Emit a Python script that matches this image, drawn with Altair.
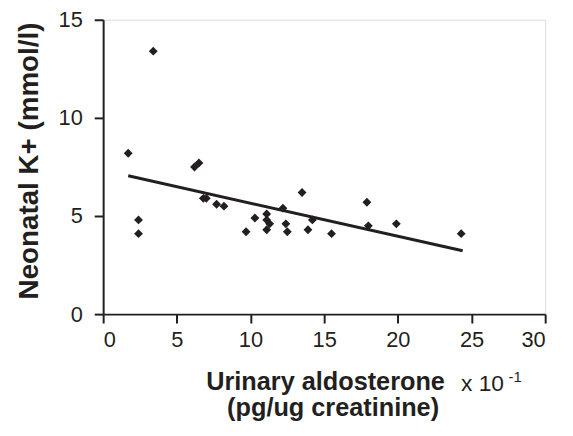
import altair as alt
import pandas as pd

# Scatter data
aldo = [1.7, 3.4, 2.4, 2.4, 6.2, 6.5, 6.8, 7.0, 7.7, 8.2, 9.7, 10.3, 11.1, 11.1,
        11.3, 11.1, 12.2, 12.4, 12.5, 13.5, 13.9, 14.2, 15.5, 17.9, 18.0, 19.9, 24.3]
potassium = [8.2, 13.4, 4.8, 4.1, 7.5, 7.7, 5.9, 5.9, 5.6, 5.5, 4.2, 4.9, 5.1, 4.8,
             4.6, 4.3, 5.4, 4.6, 4.2, 6.2, 4.3, 4.8, 4.1, 5.7, 4.5, 4.6, 4.1]

# Fitted trend line endpoints
fit_x = [1.7, 24.4]
fit_y = [7.05, 3.23]

x_ticks = [0, 5, 10, 15, 20, 25, 30]
y_ticks = [0, 5, 10, 15]

pts = pd.DataFrame({"x": aldo, "y": potassium})
fit = pd.DataFrame({"x": fit_x, "y": fit_y})

INK = "#231f20"
FONT = "Liberation Sans"

xscale = alt.Scale(domain=[0, 30], nice=False, zero=True)
yscale = alt.Scale(domain=[0, 15], nice=False, zero=True)

points = alt.Chart(pts).mark_point(shape="diamond", filled=True, size=80, color=INK,
                                   opacity=1).encode(
    x=alt.X("x:Q", scale=xscale, axis=alt.Axis(values=x_ticks, title=None)),
    y=alt.Y("y:Q", scale=yscale,
            axis=alt.Axis(values=y_ticks, title="Neonatal K+ (mmol/l)")),
)

line = alt.Chart(fit).mark_line(color=INK, strokeWidth=3).encode(
    x=alt.X("x:Q", scale=xscale),
    y=alt.Y("y:Q", scale=yscale),
)

t1 = alt.Chart().mark_text(text="Urinary aldosterone", font=FONT, fontSize=25.5,
                           fontWeight="bold", color=INK, align="left",
                           baseline="alphabetic").encode(x=alt.value(104), y=alt.value(374))
t2 = alt.Chart().mark_text(text="x 10", font=FONT, fontSize=23, color=INK, align="left",
                           baseline="alphabetic").encode(x=alt.value(361), y=alt.value(375))
t3 = alt.Chart().mark_text(text="-1", font=FONT, fontSize=15, color=INK, align="left",
                           baseline="alphabetic").encode(x=alt.value(409), y=alt.value(365))
t4 = alt.Chart().mark_text(text="(pg/ug creatinine)", font=FONT, fontSize=25.5,
                           fontWeight="bold", color=INK, align="center",
                           baseline="alphabetic").encode(x=alt.value(232), y=alt.value(400))

chart = alt.layer(points, line, t1, t2, t3, t4).properties(
    width=446, height=297,
    autosize=alt.AutoSizeParams(type="none"),
    padding={"left": 96, "top": 10, "right": 20, "bottom": 110},
).configure_view(stroke=None).configure(background="white").configure_axis(
    grid=False, domainColor=INK, domainWidth=2, tickColor=INK, tickWidth=2, tickSize=9,
    labelFontSize=22, labelColor=INK, labelFont=FONT,
).configure_axisX(labelPadding=7).configure_axisY(
    labelPadding=12, titleFont=FONT, titleFontSize=28, titleFontWeight="bold",
    titleColor=INK, titleX=-66, titleY=142, titleAngle=270, titleAlign="center",
    titleBaseline="alphabetic",
)

chart.save("out.html", embed_options={"renderer": "svg", "actions": False})
